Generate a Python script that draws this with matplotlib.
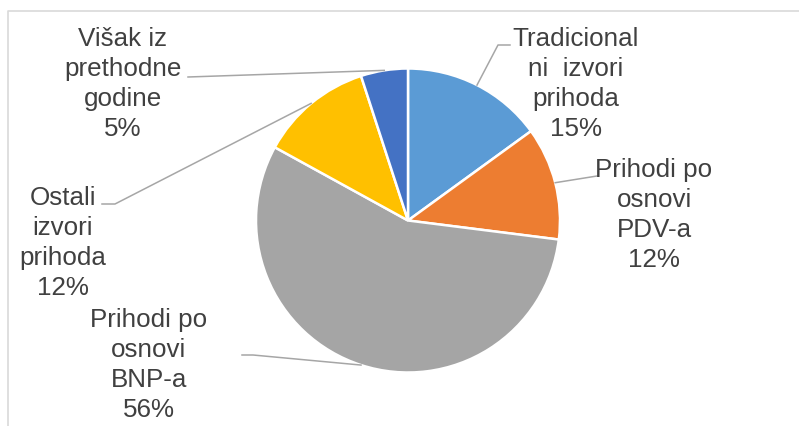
import matplotlib.pyplot as plt
import numpy as np

labels = ['Tradicional\nni  izvori\nprihoda', 'Prihodi po\nosnovi\nPDV-a',
          'Prihodi po\nosnovi\nBNP-a', 'Ostali\nizvori\nprihoda',
          'Višak iz\nprethodne\ngodine']
shares = [15, 12, 56, 12, 5]
colors = ['#5B9BD5', '#ED7D31', '#A5A5A5', '#FFC000', '#4472C4']

W, H = 799, 426
# label block centres (pixels, from top-left) and leader elbows
label_pos = [(576, 84), (654, 215), (149, 365), (63, 243), (123, 84)]
leader_pts = [[(510, 45), (498, 45)], [(597, 176)], [(242, 355), (253, 355)],
              [(102, 204), (115, 204)], [(188, 77)]]

plt.rcParams['font.family'] = ['Liberation Sans', 'DejaVu Sans']

fig = plt.figure(figsize=(W / 100, H / 100), dpi=100)
ax = fig.add_axes([0, 0, 1, 1])

cx, cy, r = 408, H - 220.5, 152
wedges, _ = ax.pie(shares, colors=colors, startangle=90, counterclock=False,
                   center=(cx, cy), radius=r, frame=True,
                   wedgeprops=dict(edgecolor='white', linewidth=1.8))
ax.set_xlim(0, W)
ax.set_ylim(0, H)
ax.set_aspect('equal')
ax.axis('off')

# chart frame
ax.plot([8, 8, W + 5], [-5, H - 11, H - 11], color='#D9D9D9', lw=1.2, clip_on=False)

for w, lab, s, (lx, ly), pts in zip(wedges, labels, shares, label_pos, leader_pts):
    ang = np.deg2rad((w.theta1 + w.theta2) / 2)
    ex, ey = cx + r * np.cos(ang), cy + r * np.sin(ang)
    xs = [p[0] for p in pts] + [ex]
    ys = [H - p[1] for p in pts] + [ey]
    ax.plot(xs, ys, color='#A6A6A6', lw=1.1)
    ax.text(lx, H - ly, f'{lab}\n{s}%', ha='center', va='center',
            multialignment='center', fontsize=18.7, color='#404040',
            linespacing=1.33)

fig.savefig('out.png', dpi=100)
